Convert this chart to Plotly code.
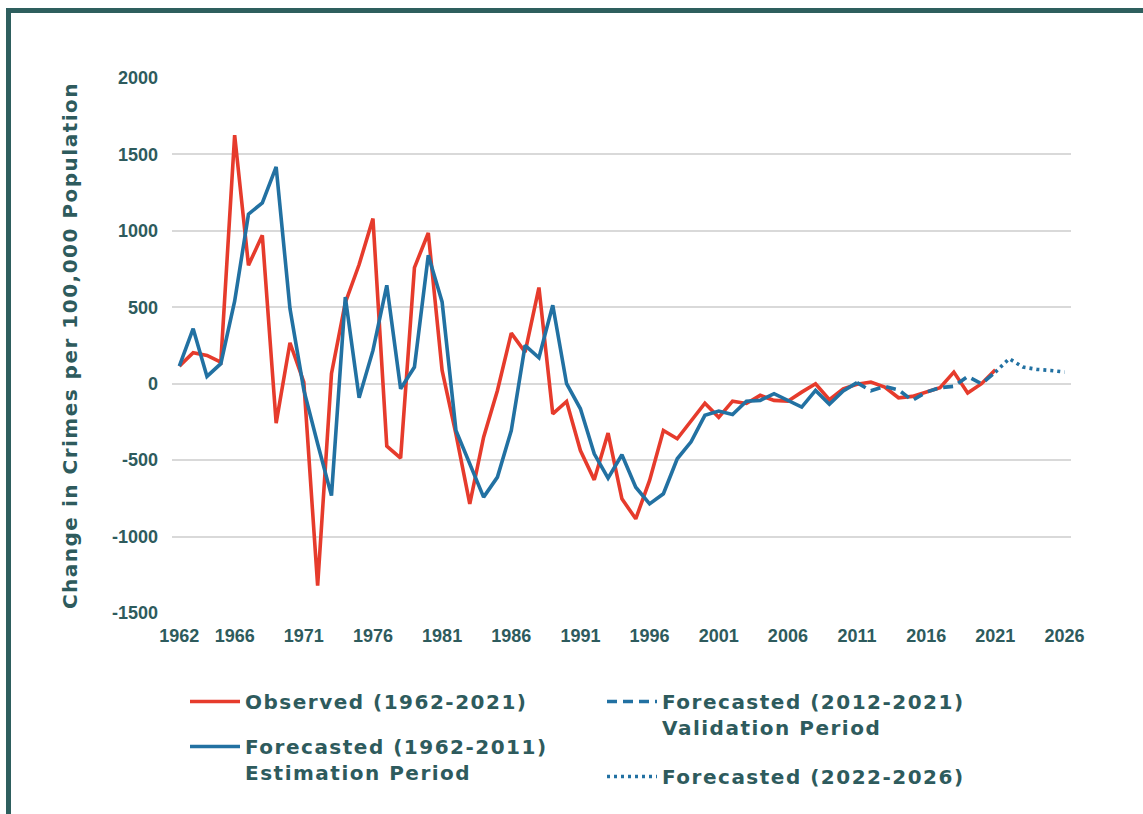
import plotly.graph_objects as go

# ---------------- data ----------------
obs_years = list(range(1962, 2022))
observed = [115, 203, 185, 141, 1626, 775, 971, -258, 268, 10,
            -1321, 65, 530, 780, 1080, -408, -487, 760, 986, 87,
            -330, -786, -350, -44, 331, 207, 629, -197, -116, -437,
            -629, -323, -753, -884, -633, -306, -360, -240, -127, -220,
            -114, -129, -76, -109, -114, -55, 0, -105, -33, -4,
            11, -22, -92, -83, -55, -26, 76, -61, 0, 92]

est_years = list(range(1962, 2012))
estimation = [115, 360, 48, 131, 540, 1109, 1183, 1419, 491, -40,
              -393, -732, 567, -92, 218, 644, -33, 109, 840, 535,
              -306, -524, -742, -611, -306, 251, 170, 513, 0, -164,
              -459, -618, -465, -677, -786, -720, -491, -380, -207, -179,
              -201, -114, -109, -65, -109, -153, -44, -135, -48, 7]

val_years = list(range(2011, 2022))
validation = [7, -46, -17, -40, -109, -55, -26, -17, 48, 0, 76]

fc_years = list(range(2021, 2027))
forecast = [76, 164, 109, 94, 87, 76]

x_ticks = [1962, 1966, 1971, 1976, 1981, 1986, 1991, 1996, 2001, 2006, 2011, 2016, 2021, 2026]
y_ticks = [-1500, -1000, -500, 0, 500, 1000, 1500, 2000]
y_tick_text = ["-1500", "-1000", "-500", "0", "500", "1000", "1500", "2000"]

names = ["Observed (1962-2021)",
         "Forecasted (1962-2011)<br>Estimation Period",
         "Forecasted (2012-2021)<br>Validation Period",
         "Forecasted (2022-2026)"]

# ---------------- style ----------------
RED = "#E63B2C"
BLUE = "#2271A2"
TEAL = "#2E5B5D"
FRAME = "#2E5F5E"
GRID = "#D9D9D9"
LW = 3.6

fig = go.Figure()
fig.add_trace(go.Scatter(x=obs_years, y=observed, mode="lines", name=names[0],
                         line=dict(color=RED, width=LW), legend="legend",
                         legendgroup="a"))
fig.add_trace(go.Scatter(x=est_years, y=estimation, mode="lines", name=names[1],
                         line=dict(color=BLUE, width=LW), legend="legend",
                         legendgroup="b"))
fig.add_trace(go.Scatter(x=val_years, y=validation, mode="lines", name=names[2],
                         line=dict(color=BLUE, width=LW, dash="10px,6px"),
                         legend="legend2", legendgroup="c"))
fig.add_trace(go.Scatter(x=fc_years, y=forecast, mode="lines", name=names[3],
                         line=dict(color=BLUE, width=LW, dash="3px,4px"),
                         legend="legend2", legendgroup="d"))

W, H = 1143, 814
ML, MR, MT, MB = 172, 72, 78, 201
pw, ph = W - ML - MR, H - MT - MB


def px_x(p):
    return (p - ML) / pw


def px_y(p):
    return (H - MB - p) / ph


legend_font = dict(family="DejaVu Sans", size=20, color=TEAL, weight="bold")
tick_font = dict(family="Liberation Sans", size=18, color=TEAL, weight="bold")

fig.update_layout(
    width=W, height=H,
    margin=dict(l=ML, r=MR, t=MT, b=MB),
    paper_bgcolor="white", plot_bgcolor="white",
    showlegend=True,
    xaxis=dict(range=[1961.47, 2026.47], tickvals=x_ticks, showgrid=False,
               zeroline=False, showline=False, ticks="",
               tickfont=tick_font, ticklabelstandoff=10),
    yaxis=dict(range=[-1500, 2000], tickvals=y_ticks, ticktext=y_tick_text,
               showgrid=True, gridcolor=GRID, gridwidth=1.5, zeroline=False,
               showline=False, ticks="", tickfont=tick_font,
               ticklabelstandoff=13,
               title=dict(text="Change in Crimes per 100,000 Population",
                          font=dict(family="DejaVu Sans", size=20, color=TEAL, weight="bold"),
                          standoff=28)),
    legend=dict(x=px_x(185), y=px_y(682), xanchor="left", yanchor="top",
                orientation="v", font=legend_font, bgcolor="rgba(0,0,0,0)",
                itemwidth=50, traceorder="grouped", tracegroupgap=16,
                valign="top"),
    legend2=dict(x=px_x(602), y=px_y(682), xanchor="left", yanchor="top",
                 orientation="v", font=legend_font, bgcolor="rgba(0,0,0,0)",
                 itemwidth=50, traceorder="grouped", tracegroupgap=20,
                 valign="top"),
    shapes=[
        dict(type="rect", xref="paper", yref="paper", layer="above",
             x0=px_x(6), x1=px_x(W + 5), y0=px_y(13), y1=px_y(8),
             fillcolor=FRAME, line=dict(width=0)),
        dict(type="rect", xref="paper", yref="paper", layer="above",
             x0=px_x(6), x1=px_x(11), y0=px_y(H + 5), y1=px_y(8),
             fillcolor=FRAME, line=dict(width=0)),
    ],
)

post = """
document.body.style.margin = '0';
var st = document.createElement('style');
st.textContent = 'text.legendtext, g[class*="legend"] text, text.ytitle ' +
                 '{ letter-spacing: 1.5px !important; } ' +
                 'g[class*="legend"] .scrollbox { clip-path: none !important; }';
document.head.appendChild(st);
"""

fig.write_html("out.html", post_script=post, config={"displayModeBar": False})
